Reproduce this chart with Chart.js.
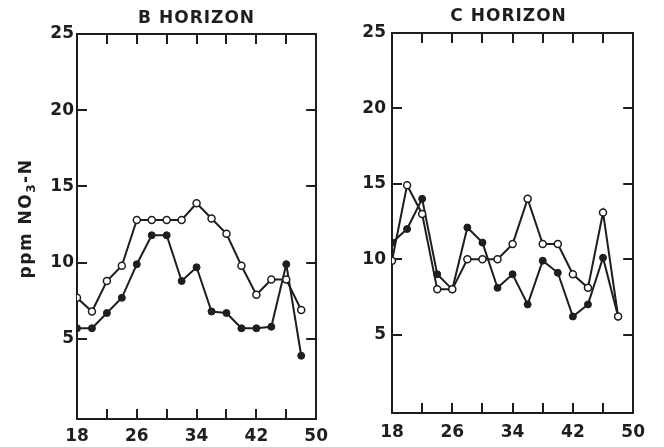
<!DOCTYPE html>
<html>
<head>
<meta charset="utf-8">
<script src="https://cdn.jsdelivr.net/npm/chart.js@4.4.1/dist/chart.umd.min.js"></script>
<style>
  html, body { margin: 0; padding: 0; background: #fff; }
  body { width: 664px; height: 447px; position: relative; overflow: hidden; }
  canvas { position: absolute; top: 0; }
  #bChart { left: 0; }
  #cChart { left: 340px; }
</style>
</head>
<body>
<canvas id="bChart" width="345" height="447"></canvas>
<canvas id="cChart" width="324" height="447"></canvas>
<script>
// x positions shared by every series
const xValues = [18, 20, 22, 24, 26, 28, 30, 32, 34, 36, 38, 40, 42, 44, 46, 48];

// B horizon
const bSolid = [5.7, 5.7, 6.7, 7.7, 9.9, 11.8, 11.8, 8.8, 9.7, 6.8, 6.7, 5.7, 5.7, 5.8, 9.9, 3.9];
const bOpen  = [7.7, 6.8, 8.8, 9.8, 12.8, 12.8, 12.8, 12.8, 13.9, 12.9, 11.9, 9.8, 7.9, 8.9, 8.9, 6.9];

// C horizon
const cSolid = [11.1, 12.0, 14.0, 9.0, 8.0, 12.1, 11.1, 8.1, 9.0, 7.0, 9.9, 9.1, 6.2, 7.0, 10.1, 6.2];
const cOpen  = [9.9, 14.9, 13.0, 8.0, 8.0, 10.0, 10.0, 10.0, 11.0, 14.0, 11.0, 11.0, 9.0, 8.1, 13.1, 6.2];

// axis ticks
const xTicks = [18, 22, 26, 30, 34, 38, 42, 46, 50];
const xLabels = [18, 26, 34, 42, 50];
const yTicks = [5, 10, 15, 20, 25];

const INK = '#1e1e1e';
const FONT = 'DejaVu Sans';

// title above each panel, centred on the plot box
const panelTitle = {
    id: 'panelTitle',
    afterDraw(chart, args, opts) {
        const { ctx, chartArea } = chart;
        ctx.save();
        ctx.font = 'bold ' + opts.size + 'px "' + FONT + '"';
        ctx.letterSpacing = '1px';
        ctx.fillStyle = INK;
        ctx.textAlign = 'center';
        ctx.textBaseline = 'middle';
        ctx.fillText(opts.text, (chartArea.left + chartArea.right) / 2 + opts.dx, chartArea.top - opts.gap);
        ctx.restore();
    }
};

// rotated y label with a real subscript 3
const yLabel = {
    id: 'yLabel',
    afterDraw(chart, args, opts) {
        if (!opts.show) return;
        const { ctx, chartArea } = chart;
        const parts = [['ppm NO', 0, 17], ['3', 4, 12], ['-N', 0, 17]];
        ctx.save();
        ctx.letterSpacing = '1.5px';
        ctx.fillStyle = INK;
        ctx.textBaseline = 'alphabetic';
        let total = 0;
        parts.forEach(p => {
            ctx.font = 'bold ' + p[2] + 'px "' + FONT + '"';
            total += ctx.measureText(p[0]).width;
        });
        ctx.translate(opts.x, (chartArea.top + chartArea.bottom) / 2 + opts.dy);
        ctx.rotate(-Math.PI / 2);
        let pos = -total / 2;
        parts.forEach(p => {
            ctx.font = 'bold ' + p[2] + 'px "' + FONT + '"';
            ctx.fillText(p[0], pos, 6 + p[1]);
            pos += ctx.measureText(p[0]).width;
        });
        ctx.restore();
    }
};

function toPoints(ys) {
    return xValues.map((x, i) => ({ x: x, y: ys[i] }));
}

function makePanel(id, title, solid, open, lay) {
    const ctx = document.getElementById(id).getContext('2d');
    const tickFont = { family: FONT, size: 17, weight: 'bold' };
    const frame = { color: INK, width: 2 };
    const inward = { drawOnChartArea: false, drawTicks: true, tickLength: -10, color: INK, lineWidth: 2 };

    return new Chart(ctx, {
        type: 'line',
        data: {
            datasets: [
                {
                    data: toPoints(open),
                    borderColor: INK,
                    borderWidth: 2,
                    pointRadius: 3.5,
                    pointBorderWidth: 1.5,
                    pointBackgroundColor: '#fff',
                    pointBorderColor: INK,
                    tension: 0
                },
                {
                    data: toPoints(solid),
                    borderColor: INK,
                    borderWidth: 2,
                    pointRadius: 3.5,
                    pointBorderWidth: 1,
                    pointBackgroundColor: INK,
                    pointBorderColor: INK,
                    tension: 0
                }
            ]
        },
        options: {
            responsive: false,
            animation: false,
            layout: { padding: { top: lay.top, right: lay.right, left: 0, bottom: 0 } },
            plugins: {
                legend: { display: false },
                tooltip: { enabled: false },
                panelTitle: { text: title, size: 17, dx: lay.titleDx, gap: lay.titleGap },
                yLabel: { show: lay.yTitle, x: 25, dy: -8 }
            },
            scales: {
                x: {
                    type: 'linear',
                    position: 'bottom',
                    min: 18,
                    max: 50,
                    afterBuildTicks: s => { s.ticks = xTicks.map(v => ({ value: v })); },
                    afterFit: s => { s.height = lay.xHeight; },
                    ticks: {
                        color: INK,
                        font: tickFont,
                        padding: lay.xPad,
                        maxRotation: 0,
                        autoSkip: false,
                        callback: v => (xLabels.includes(v) ? String(v) : '')
                    },
                    grid: inward,
                    border: frame
                },
                x2: {
                    type: 'linear',
                    position: 'top',
                    min: 18,
                    max: 50,
                    afterBuildTicks: s => { s.ticks = xTicks.map(v => ({ value: v })); },
                    afterFit: s => { s.height = 0; },
                    ticks: { display: false },
                    grid: inward,
                    border: frame
                },
                y: {
                    position: 'left',
                    min: lay.yMin,
                    max: 25,
                    afterBuildTicks: s => { s.ticks = yTicks.map(v => ({ value: v })); },
                    afterFit: s => { s.width = lay.yWidth; },
                    ticks: {
                        color: INK,
                        font: tickFont,
                        padding: lay.yPad,
                        autoSkip: false
                    },
                    grid: inward,
                    border: frame
                },
                y2: {
                    position: 'right',
                    min: lay.yMin,
                    max: 25,
                    afterBuildTicks: s => { s.ticks = yTicks.map(v => ({ value: v })); },
                    afterFit: s => { s.width = 0; },
                    ticks: { display: false },
                    grid: inward,
                    border: frame
                }
            }
        },
        plugins: [panelTitle, yLabel]
    });
}

makePanel('bChart', 'B HORIZON', bSolid, bOpen, {
    top: 34, right: 15, yWidth: 77, xHeight: 28, yMin: -0.25,
    xPad: 17, yPad: 13, yTitle: true, titleDx: 0, titleGap: 15
});

makePanel('cChart', 'C HORIZON', cSolid, cOpen, {
    top: 33, right: 27, yWidth: 52, xHeight: 34, yMin: -0.2,
    xPad: 19, yPad: 16, yTitle: false, titleDx: -4, titleGap: 16
});
</script>
</body>
</html>
